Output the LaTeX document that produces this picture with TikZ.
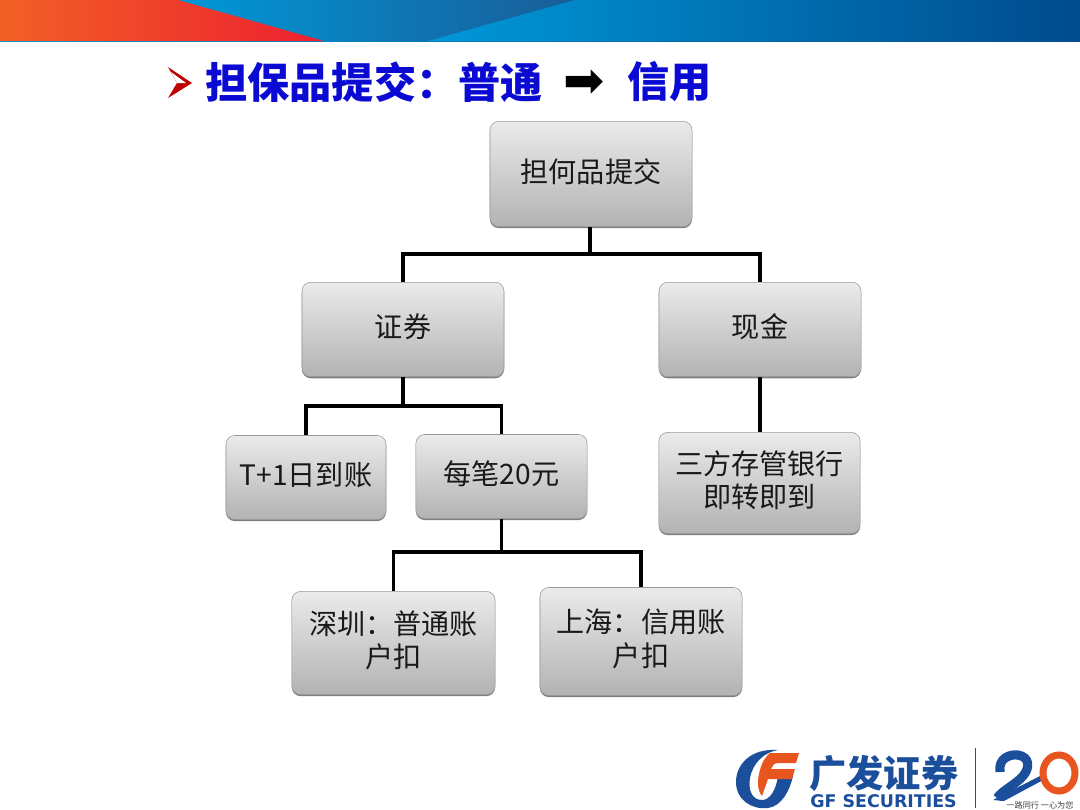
\documentclass[tikz,border=0pt]{standalone}
\usepackage{fontspec}
\setmainfont{Noto Sans CJK SC}
\newfontfamily\symfont{DejaVu Sans}
\newfontfamily\logofont{DejaVu Sans}
\usetikzlibrary{shadows}
\definecolor{bandred}{HTML}{ED2030}
\definecolor{bandorange}{HTML}{F26026}
\definecolor{bandlight}{HTML}{0098D8}
\definecolor{banddark}{HTML}{004B8D}
\definecolor{gfblue}{HTML}{1B4F9C}
\definecolor{gforange}{HTML}{E8551F}
\definecolor{titleblue}{HTML}{0A0AD2}
\tikzset{
    box/.style={draw=black!40, line width=0.4pt, rounded corners=0.22cm, top color=black!8, bottom color=black!30,
        text=black!90, align=center, font=\fontsize{20}{24}\selectfont, text depth=5.6pt,
        drop shadow={shadow xshift=0pt, shadow yshift=-1.1pt, opacity=0.5, fill=black}},
    link/.style={draw=black, line width=2.2pt}
}
\begin{document}
\begin{tikzpicture}[x=0.025cm, y=-0.025cm]
    \useasboundingbox (0,0) rectangle (1080,810);

    % Header band
    \shade[left color=bandlight, right color=banddark] (0,0) rectangle (1080,41);
    \shade[left color=bandlight, right color=banddark!90] (178,0) -- (575,0) -- (428,41) -- (324,41) -- cycle;
    \shade[left color=bandlight, right color=banddark] (575,0) -- (1080,0) -- (1080,41) -- (428,41) -- cycle;
    \shade[left color=bandorange, right color=bandred] (0,0) -- (178,0) -- (324,41) -- (0,41) -- cycle;

    % Title
    \fill[red!75!black] (168,67) -- (192,83) -- (168,98) -- (177,83) -- cycle;
    \fill[white] (171,72) -- (186,83) -- (177,83) -- cycle;
    \node[anchor=west, inner sep=0pt, text=titleblue, font=\fontsize{30}{36}\bfseries\selectfont] (title) at (205,82) {担保品提交：普通};
    \node[text=black, font=\symfont\fontsize{35}{38}\selectfont] (titlearrow) at (584,84) {➡};
    \node[anchor=west, inner sep=0pt, text=titleblue, font=\fontsize{30}{36}\bfseries\selectfont] (titleend) at (627,82) {信用};

    % Boxes
    \node[box, minimum width=5.05cm, minimum height=2.63cm] (submit) at (591,174) {担何品提交};
    \node[box, minimum width=5.05cm, minimum height=2.36cm] (stock) at (403,329.5) {证券};
    \node[box, minimum width=5.05cm, minimum height=2.36cm] (cash) at (760,329.5) {现金};
    \node[box, minimum width=4cm, minimum height=2.1cm] (tplus) at (306,477.5) {T+1日到账};
    \node[box, minimum width=4.28cm, minimum height=2.1cm] (fee) at (501.5,476.5) {每笔20元};
    \node[box, minimum width=5.03cm, minimum height=2.53cm] (bank) at (759.5,483) {三方存管银行\\即转即到};
    \node[box, minimum width=5.08cm, minimum height=2.58cm] (shenzhen) at (393.5,643) {深圳：普通账\\户扣};
    \node[box, minimum width=5.05cm, minimum height=2.7cm] (shanghai) at (641,641.5) {上海：信用账\\户扣};

    % Connections
    \coordinate (submitbus) at (590,254);
    \coordinate (stockbus) at (403,406);
    \coordinate (feebus) at (501.5,552);
    \draw[link] (submit.south -| submitbus) -- (submitbus);
    \draw[link] (submitbus) -| (stock.north);
    \draw[link] (submitbus) -| (cash.north);
    \draw[link] (stock.south) -- (stockbus);
    \draw[link] (stockbus) -| (tplus.north);
    \draw[link] (stockbus) -| (fee.north);
    \draw[link] (fee.south) -- (feebus);
    \draw[link] (feebus) -| (shenzhen.north);
    \draw[link] (feebus) -| (shanghai.north);
    \draw[link] (cash.south) -- (bank.north -| cash.south);

    % Logo
    \fill[gfblue] (778,750) .. controls (750,748) and (736,765) .. (736,782) .. controls (736,800) and (752,810) .. (768,808) .. controls (782,806) and (790,790) .. (793,776) -- (778,776) .. controls (776,790) and (770,800) .. (762,800) .. controls (752,800) and (748,790) .. (750,778) .. controls (753,762) and (765,752) .. (778,750) -- cycle;
    \fill[gforange] (770,753) -- (799,753) -- (796,763) -- (778,763) .. controls (774,763) and (772,766) .. (771,769) -- (795,769) -- (792,779) -- (768,779) -- (762,796) .. controls (757,790) and (757,780) .. (760,770) .. controls (762,762) and (766,756) .. (770,753) -- cycle;
    \node[anchor=west, inner sep=0pt, text=gfblue, font=\fontsize{26.5}{30}\bfseries\selectfont] (logoname) at (809,773) {广发证券};
    \node[anchor=west, inner sep=0pt, text=gfblue, font=\logofont\fontsize{12.4}{14}\bfseries\selectfont] (logolatin) at (810,801) {GF SECURITIES};
    \draw[gfblue, line width=0.7pt] (975,748) -- (975,808);
    \draw[gfblue, line width=6.5pt] (1000,772) .. controls (998,758) and (1010,754) .. (1018,755) .. controls (1030,757) and (1030,768) .. (1023,776) .. controls (1015,785) and (1003,790) .. (997,798);
    \fill[gfblue] (993,800) -- (1040,776) -- (1045,779) -- (1004,801) -- cycle;
    \draw[gforange, line width=5pt] (1059,773) ellipse (16 and 18);
    \node[inner sep=0pt, text=black!75, font=\fontsize{5.8}{7}\selectfont] (logomotto) at (1040,805) {一路同行 一心为您};
\end{tikzpicture}
\end{document}
